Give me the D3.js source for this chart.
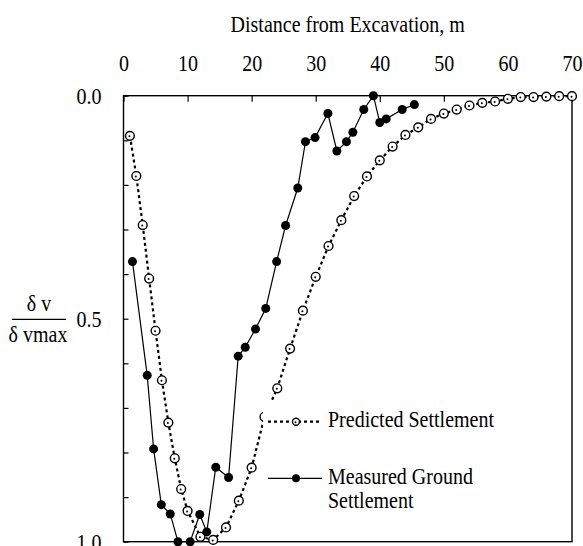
<div id="chart"></div>
<script src="https://d3js.org/d3.v7.min.js"></script>
<script>
// distance from excavation (m) and normalised settlement dv/dvmax
var predX = [1, 2, 3, 4, 5, 6, 7, 8, 9, 10, 12, 14, 16, 18, 20, 22, 24, 26, 28, 30,
             32, 34, 36, 38, 40, 42, 44, 46, 48, 50, 52, 54, 56, 58, 60, 62, 64, 66, 68, 70];
var predY = [0.09, 0.18, 0.29, 0.41, 0.527, 0.638, 0.733, 0.813, 0.882, 0.931, 0.989, 0.996, 0.968, 0.908, 0.834, 0.72, 0.656, 0.567, 0.482, 0.406,
             0.337, 0.279, 0.225, 0.181, 0.145, 0.114, 0.088, 0.071, 0.052, 0.04, 0.031, 0.022, 0.016, 0.013, 0.007, 0.003, 0.003, 0.002, 0.001, 0.001];

var measX = [1.4, 3.7, 4.7, 5.9, 7.3, 8.5, 10.4, 11.9, 13.0, 14.4, 16.4, 17.9, 19.0, 20.6, 22.2, 23.9,
             25.3, 27.2, 28.4, 29.9, 31.9, 33.3, 34.8, 35.8, 37.5, 39.0, 40.0, 41.0, 43.5, 45.4];
var measY = [0.372, 0.627, 0.792, 0.917, 0.938, 1.0, 1.0, 0.939, 0.978, 0.833, 0.856, 0.584, 0.564, 0.523, 0.477, 0.372,
             0.291, 0.207, 0.103, 0.094, 0.04, 0.124, 0.103, 0.082, 0.031, 0.0, 0.06, 0.052, 0.031, 0.02];

var xTicks = [0, 10, 20, 30, 40, 50, 60, 70];
var yTicks = [0, 0.1, 0.2, 0.3, 0.4, 0.5, 0.6, 0.7, 0.8, 0.9, 1.0];
var yLabels = [0, 0.5, 1.0];

var width = 583, height = 546;
var mLeft = 123.5, mRight = 572, mTop = 95.7, mBottom = 541.7;
var font = "'Liberation Serif', 'Times New Roman', serif";

var x = d3.scaleLinear().domain([0, 70]).range([mLeft, mRight]);
var y = d3.scaleLinear().domain([0, 1]).range([mTop, mBottom]);

d3.select("body").style("margin", 0).style("background", "#fff");
var svg = d3.select("#chart").append("svg")
    .attr("width", width)
    .attr("height", height)
    .style("display", "block")
    .style("font-family", font);

// top axis, ticks pointing inward
var xAxis = svg.append("g")
    .attr("transform", "translate(0," + mTop + ")")
    .call(d3.axisTop(x).tickValues(xTicks).tickSizeInner(-6).tickSizeOuter(0).tickPadding(25));
xAxis.select(".domain").remove();
xAxis.selectAll("line").attr("stroke", "#000").attr("stroke-width", 1.2);
xAxis.selectAll("text").attr("font-size", 20).attr("font-family", font).attr("fill", "#000");

var yAxis = svg.append("g")
    .attr("transform", "translate(" + mLeft + ",0)")
    .call(d3.axisLeft(y).tickValues(yTicks).tickSizeInner(-5).tickSizeOuter(0).tickPadding(22)
      .tickFormat(d => yLabels.some(v => Math.abs(v - d) < 1e-9) ? d3.format(".1f")(d) : ""));
yAxis.select(".domain").remove();
yAxis.selectAll("line").attr("stroke", "#000").attr("stroke-width", 1.2);
yAxis.selectAll("text").attr("font-size", 20).attr("font-family", font).attr("fill", "#000");

// frame
svg.append("rect")
    .attr("x", mLeft).attr("y", mTop)
    .attr("width", mRight - mLeft).attr("height", mBottom - mTop)
    .attr("fill", "none").attr("stroke", "#000").attr("stroke-width", 1.4);

svg.append("text")
    .attr("x", (mLeft + mRight) / 2).attr("y", 32)
    .attr("text-anchor", "middle").attr("font-size", 20)
    .text("Distance from Excavation, m");

// y label as a fraction
var yl = svg.append("g").attr("font-size", 20).attr("text-anchor", "middle");
yl.append("text").attr("x", 39).attr("y", 311.5).text("δ v");
yl.append("line").attr("x1", 12).attr("x2", 66).attr("y1", 319.3).attr("y2", 319.3)
    .attr("stroke", "#000").attr("stroke-width", 1.2);
yl.append("text").attr("x", 38).attr("y", 342.5).text("δ vmax");

var pred = predX.map((d, i) => ({x: d, y: predY[i]}));
var meas = measX.map((d, i) => ({x: d, y: measY[i]}));
var line = d3.line().x(d => x(d.x)).y(d => y(d.y));

svg.append("path").datum(pred)
    .attr("d", line).attr("fill", "none")
    .attr("stroke", "#000").attr("stroke-width", 2.2).attr("stroke-dasharray", "3,3");

svg.append("path").datum(meas)
    .attr("d", line).attr("fill", "none")
    .attr("stroke", "#000").attr("stroke-width", 1.2);

function openMarker(g, r) {
  g.append("circle").attr("r", r).attr("fill", "#fff").attr("stroke", "#000").attr("stroke-width", 1.4);
  g.append("circle").attr("r", 1).attr("cx", -0.5).attr("cy", 0.5).attr("fill", "#000");
}

svg.append("g").selectAll("g").data(pred).enter().append("g")
    .attr("transform", d => "translate(" + x(d.x) + "," + y(d.y) + ")")
    .each(function() { openMarker(d3.select(this), 4.4); });

svg.append("g").selectAll("circle").data(meas).enter().append("circle")
    .attr("cx", d => x(d.x)).attr("cy", d => y(d.y))
    .attr("r", 4.5).attr("fill", "#000");

// legend
var lg = svg.append("g").attr("font-size", 20);
lg.append("rect").attr("x", 263).attr("y", 400).attr("width", 260).attr("height", 125).attr("fill", "#fff");
lg.append("line").attr("x1", 268).attr("x2", 322).attr("y1", 421.7).attr("y2", 421.7)
    .attr("stroke", "#000").attr("stroke-width", 2.2).attr("stroke-dasharray", "3,3");
openMarker(lg.append("g").attr("transform", "translate(296,421.7)"), 3.5);
lg.append("text").attr("x", 328).attr("y", 427).text("Predicted Settlement");

lg.append("line").attr("x1", 268).attr("x2", 322).attr("y1", 478.3).attr("y2", 478.3)
    .attr("stroke", "#000").attr("stroke-width", 1.2);
lg.append("circle").attr("cx", 296).attr("cy", 478.3).attr("r", 4).attr("fill", "#000");
lg.append("text").attr("x", 328).attr("y", 484).text("Measured Ground");
lg.append("text").attr("x", 328).attr("y", 508.5).text("Settlement");

// the original picture's lettering is a little taller than wide: stretch around each baseline
var stretch = 1.15;
svg.selectAll("text").each(function() {
  var t = d3.select(this);
  var ty = +t.attr("y") || 0;
  t.attr("transform", "translate(0," + (ty * (1 - stretch)) + ") scale(1," + stretch + ")");
});
</script>
